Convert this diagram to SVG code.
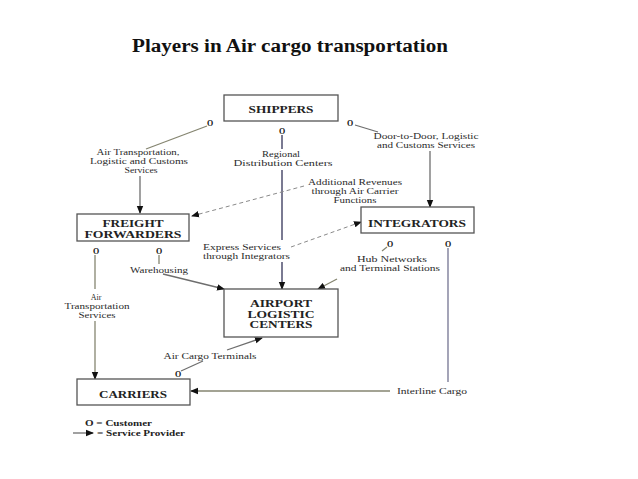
<svg xmlns="http://www.w3.org/2000/svg" width="638" height="479" viewBox="0 0 638 479">
<style>
.box{fill:#fff;stroke:#555;stroke-width:1.3}
.bt{font-family:"Liberation Serif",serif;font-weight:bold;font-size:10.5px;fill:#222;text-anchor:middle}
.lb{font-family:"Liberation Serif",serif;font-size:8px;fill:#2a2a2a;text-anchor:middle}
.ll{font-family:"Liberation Serif",serif;font-size:8px;fill:#2a2a2a}
.o{font-family:"Liberation Serif",serif;font-weight:bold;font-size:8px;fill:#111;text-anchor:middle}
.c{fill:none;stroke:#6e6e6e;stroke-width:1.3}
.ol{stroke:#858570}
.bl{stroke:#4e4e6e;stroke-width:1.5}
.lv{stroke:#8e8ea6;stroke-width:1.6}
.d{stroke-dasharray:4 3;stroke:#8a8a8a;stroke-width:1}
.lg{font-family:"Liberation Serif",serif;font-weight:bold;font-size:8px;fill:#222}
</style>
<defs>
<marker id="ah" markerUnits="userSpaceOnUse" markerWidth="8" markerHeight="8" viewBox="0 0 8 8" refX="7" refY="4" orient="auto">
<path d="M0,0.8 L8,4 L0,7.2 Z" fill="#111"/>
</marker>
</defs>
<rect width="638" height="479" fill="#fff"/>
<text x="290" y="52" font-family="Liberation Serif,serif" font-weight="bold" font-size="18" fill="#111" text-anchor="middle" textLength="316" lengthAdjust="spacingAndGlyphs">Players in Air cargo transportation</text>

<g id="connectors">
<path class="c ol" d="M207,126 L146,149"/>
<path class="c" d="M140,176 L140,213" marker-end="url(#ah)"/>
<path class="c bl" d="M282,135 L282,149"/>
<path class="c bl" d="M282,170 L282,240"/>
<path class="c bl" d="M282,262 L282,289" marker-end="url(#ah)"/>
<path class="c" d="M355,125 L378,132"/>
<path class="c" d="M430,151 L430,207" marker-end="url(#ah)"/>
<path class="c d" d="M304,186 L192,216" marker-end="url(#ah)"/>
<path class="c d" d="M291,247 L361,222" marker-end="url(#ah)"/>
<path class="c ol" d="M95,255 L95,289"/>
<path class="c ol" d="M95,321 L95,379" marker-end="url(#ah)"/>
<path class="c ol" d="M159,255 L159,264"/>
<path class="c" d="M163,274 L224,289" marker-end="url(#ah)"/>
<path class="c ol" d="M387,247 L382,251"/>
<path class="c ol" d="M337,279 L318,289" marker-end="url(#ah)"/>
<path class="c lv" d="M448,248 L448,382"/>
<path class="c ol" d="M390,391 L191,391" marker-end="url(#ah)"/>
<path class="c" d="M181,371 L203,361"/>
<path class="c" d="M227,350 L262,338" marker-end="url(#ah)"/>
</g>

<g id="shippers">
<rect class="box" x="224" y="95" width="114" height="26"/>
<text class="bt" x="281" y="113" textLength="65" lengthAdjust="spacingAndGlyphs">SHIPPERS</text>
</g>
<g id="integrators">
<rect class="box" x="361" y="207" width="113" height="26"/>
<text class="bt" x="417" y="227" textLength="98" lengthAdjust="spacingAndGlyphs">INTEGRATORS</text>
</g>
<g id="freight-forwarders">
<rect class="box" x="77" y="214" width="112" height="27"/>
<text class="bt" x="133" y="227" textLength="61" lengthAdjust="spacingAndGlyphs">FREIGHT</text>
<text class="bt" x="133" y="238" textLength="97" lengthAdjust="spacingAndGlyphs">FORWARDERS</text>
</g>
<g id="airport-logistic-centers">
<rect class="box" x="224" y="289" width="114" height="48"/>
<text class="bt" x="281" y="307" textLength="62" lengthAdjust="spacingAndGlyphs">AIRPORT</text>
<text class="bt" x="281" y="318" textLength="67" lengthAdjust="spacingAndGlyphs">LOGISTIC</text>
<text class="bt" x="281" y="328" textLength="63" lengthAdjust="spacingAndGlyphs">CENTERS</text>
</g>
<g id="carriers">
<rect class="box" x="77" y="379" width="113" height="26"/>
<text class="bt" x="133" y="398" textLength="68" lengthAdjust="spacingAndGlyphs">CARRIERS</text>
</g>

<g id="labels">
<text class="o" x="210" y="126">O</text>
<text class="o" x="282" y="134">O</text>
<text class="o" x="350" y="126">O</text>
<text class="o" x="96" y="254">O</text>
<text class="o" x="159" y="254">O</text>
<text class="o" x="390" y="247">O</text>
<text class="o" x="448" y="247">O</text>
<text class="o" x="178" y="377">O</text>

<text class="lb" x="138" y="155" textLength="83" lengthAdjust="spacingAndGlyphs">Air Transportation,</text>
<text class="lb" x="139" y="164" textLength="98" lengthAdjust="spacingAndGlyphs">Logistic and Customs</text>
<text class="lb" x="141" y="173" textLength="33" lengthAdjust="spacingAndGlyphs">Services</text>

<text class="lb" x="281" y="157" textLength="38" lengthAdjust="spacingAndGlyphs">Regional</text>
<text class="lb" x="283" y="166" textLength="99" lengthAdjust="spacingAndGlyphs">Distribution Centers</text>

<text class="lb" x="426" y="139" textLength="105" lengthAdjust="spacingAndGlyphs">Door-to-Door, Logistic</text>
<text class="lb" x="426" y="148" textLength="98" lengthAdjust="spacingAndGlyphs">and Customs Services</text>

<text class="lb" x="355" y="185" textLength="94" lengthAdjust="spacingAndGlyphs">Additional Revenues</text>
<text class="lb" x="355" y="194" textLength="87" lengthAdjust="spacingAndGlyphs">through Air Carrier</text>
<text class="lb" x="355" y="203" textLength="43" lengthAdjust="spacingAndGlyphs">Functions</text>

<text class="ll" x="203" y="250" textLength="78" lengthAdjust="spacingAndGlyphs">Express Services</text>
<text class="ll" x="203" y="259" textLength="87" lengthAdjust="spacingAndGlyphs">through Integrators</text>

<text class="ll" x="130" y="273" textLength="58" lengthAdjust="spacingAndGlyphs">Warehousing</text>

<text class="lb" x="96" y="300">Air</text>
<text class="lb" x="97" y="309" textLength="65" lengthAdjust="spacingAndGlyphs">Transportation</text>
<text class="lb" x="97" y="318" textLength="37" lengthAdjust="spacingAndGlyphs">Services</text>

<text class="lb" x="392" y="262" textLength="70" lengthAdjust="spacingAndGlyphs">Hub Networks</text>
<text class="lb" x="390" y="271" textLength="100" lengthAdjust="spacingAndGlyphs">and Terminal Stations</text>

<text class="lb" x="210" y="359" textLength="93" lengthAdjust="spacingAndGlyphs">Air Cargo Terminals</text>

<text class="lb" x="432" y="394" textLength="70" lengthAdjust="spacingAndGlyphs">Interline Cargo</text>
</g>

<g id="legend">
<text class="lg" x="85" y="426" textLength="67" lengthAdjust="spacingAndGlyphs">O = Customer</text>
<path class="c" d="M73,433 L93,433" marker-end="url(#ah)"/>
<text class="lg" x="97" y="436" textLength="88" lengthAdjust="spacingAndGlyphs">= Service Provider</text>
</g>
</svg>
